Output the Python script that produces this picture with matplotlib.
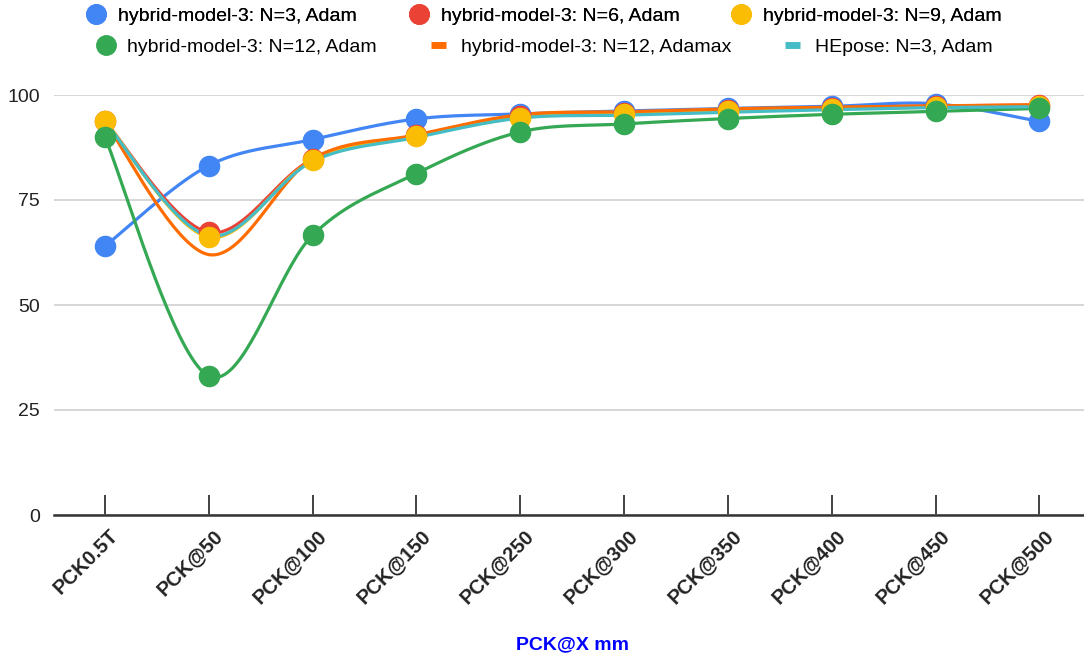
import matplotlib
matplotlib.use('Agg')
import matplotlib.pyplot as plt
import matplotlib.transforms as mtransforms
from matplotlib.lines import Line2D
import numpy as np

plt.rcParams['font.family'] = ['Liberation Sans', 'DejaVu Sans']

# data
categories = ['PCK0.5T', 'PCK@50', 'PCK@100', 'PCK@150', 'PCK@250',
              'PCK@300', 'PCK@350', 'PCK@400', 'PCK@450', 'PCK@500']
n3_adam = [64.0, 83.2, 89.4, 94.3, 95.5, 96.2, 96.8, 97.3, 97.9, 93.7]
n6_adam = [93.8, 67.3, 84.7, 90.4, 95.0, 95.8, 96.5, 97.0, 97.4, 97.6]
n9_adam = [93.9, 66.2, 84.5, 90.2, 94.6, 95.4, 96.1, 96.7, 97.1, 97.4]
n12_adam = [90.0, 33.1, 66.6, 81.3, 91.2, 93.1, 94.4, 95.4, 96.1, 96.8]
n12_adamax = [93.6, 62.0, 84.8, 90.5, 95.3, 96.0, 96.7, 97.1, 97.4, 97.7]
hepose_n3 = [93.7, 66.5, 84.2, 89.9, 94.5, 95.2, 95.9, 96.5, 97.0, 97.2]
yticks = [0, 25, 50, 75, 100]

series = [
    ('hybrid-model-3: N=3, Adam', n3_adam, '#4285F4', True),
    ('hybrid-model-3: N=6, Adam', n6_adam, '#EA4335', True),
    ('hybrid-model-3: N=9, Adam', n9_adam, '#FBBC04', True),
    ('hybrid-model-3: N=12, Adam', n12_adam, '#34A853', True),
    ('hybrid-model-3: N=12, Adamax', n12_adamax, '#FF6D01', False),
    ('HEpose: N=3, Adam', hepose_n3, '#46BDC6', False),
]


def smooth(x, y, steps=40):
    # catmull-rom curve through the points (like the smoothed line option)
    x = np.asarray(x, float)
    y = np.asarray(y, float)
    px = np.concatenate([[x[0]], x, [x[-1]]])
    py = np.concatenate([[y[0]], y, [y[-1]]])
    xs, ys = [], []
    t = np.linspace(0, 1, steps)
    for i in range(1, len(px) - 2):
        mx0 = (px[i + 1] - px[i - 1]) / 2
        mx1 = (px[i + 2] - px[i]) / 2
        my0 = (py[i + 1] - py[i - 1]) / 2
        my1 = (py[i + 2] - py[i]) / 2
        h00 = 2 * t**3 - 3 * t**2 + 1
        h10 = t**3 - 2 * t**2 + t
        h01 = -2 * t**3 + 3 * t**2
        h11 = t**3 - t**2
        xs.append(h00 * px[i] + h10 * mx0 + h01 * px[i + 1] + h11 * mx1)
        ys.append(h00 * py[i] + h10 * my0 + h01 * py[i + 1] + h11 * my1)
    return np.concatenate(xs), np.concatenate(ys)


fig = plt.figure(figsize=(10.84, 6.59), dpi=100)
ax = fig.add_axes([54 / 1084, (659 - 515) / 659, 1030 / 1084, 420 / 659])

x = np.arange(len(categories))
for label, vals, color, markers in series:
    sx, sy = smooth(x, vals)
    ax.plot(sx, sy, color=color, lw=2.3, zorder=2, clip_on=False)
for label, vals, color, markers in series:
    if markers:
        ax.plot(x, vals, 'o', color=color, ms=14.5, zorder=3, clip_on=False)

ax.set_xlim(-0.49, 9.43)
ax.set_ylim(0, 100)
ax.set_yticks(yticks)
ax.set_yticklabels([str(v) for v in yticks], fontsize=14, color='#222222')
ax.yaxis.grid(True, color='#cccccc', lw=1.1)
ax.set_axisbelow(True)
ax.tick_params(axis='y', length=0, pad=10)
for s in ['left', 'right', 'top']:
    ax.spines[s].set_visible(False)
ax.spines['bottom'].set_color('#333333')
ax.spines['bottom'].set_linewidth(1.8)
ax.spines['bottom'].set_zorder(1)

ax.set_xticks(x)
ax.set_xticklabels(categories, rotation=45, ha='right', rotation_mode='anchor',
                   fontsize=14.5, fontweight='bold', color='#222222')
ax.tick_params(axis='x', direction='in', length=14.5, width=1.3, color='#333333', pad=8)
offset = mtransforms.ScaledTranslation(4 / 100, 0, fig.dpi_scale_trans)
for lbl in ax.get_xticklabels():
    lbl.set_transform(lbl.get_transform() + offset)

fig.text(572 / 1084, 1 - 645 / 659, 'PCK@X mm', color='#0000ff', fontsize=14,
         fontweight='bold', ha='center', va='center')

handles = []
for label, vals, color, markers in series:
    if markers:
        h = Line2D([], [], ls='none', marker='o', color=color, ms=14)
    else:
        h = Line2D([], [], ls='-', color=color, lw=5, solid_capstyle='butt')
    handles.append(h)
labels = [s[0] for s in series]

leg1 = fig.legend(handles[:3], labels[:3], loc='center', bbox_to_anchor=(0.503, 1 - 16 / 659),
                  ncol=3, frameon=False, fontsize=14, handlelength=0.75,
                  handletextpad=0.75, columnspacing=2.8, borderpad=0)
leg2 = fig.legend(handles[3:], labels[3:], loc='center', bbox_to_anchor=(0.503, 1 - 47 / 659),
                  ncol=3, frameon=False, fontsize=14, handlelength=0.75,
                  handletextpad=0.75, columnspacing=2.8, borderpad=0)
fig.add_artist(leg1)

fig.savefig('out.png', dpi=100)
